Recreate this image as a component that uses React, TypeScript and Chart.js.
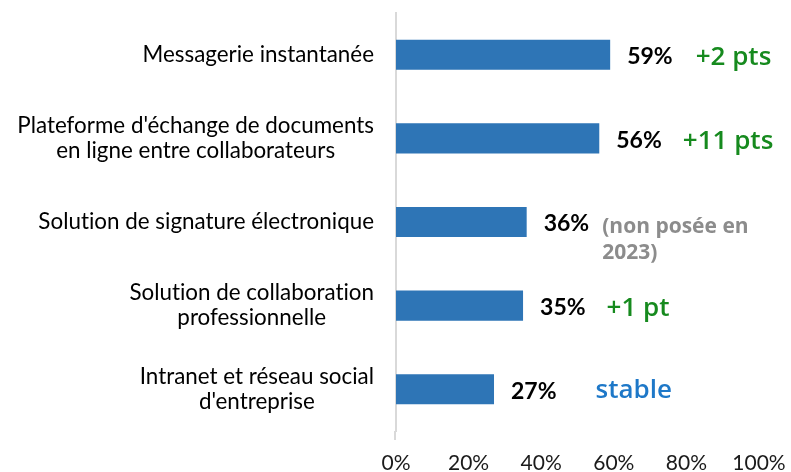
import React, { useEffect, useRef } from "react";
import { Chart, registerables } from "chart.js";

Chart.register(...registerables);

const categories: string[][] = [
  ["Messagerie instantanée"],
  ["Plateforme d'échange de documents", "en ligne entre collaborateurs"],
  ["Solution de signature électronique"],
  ["Solution de collaboration", "professionnelle"],
  ["Intranet et réseau social", "d'entreprise"],
];
const values: number[] = [59, 56, 36, 35, 27];
const valueLabels: string[] = ["59%", "56%", "36%", "35%", "27%"];
const evolutionLabels: string[][] = [
  ["+2 pts"],
  ["+11 pts"],
  ["(non posée en", "2023)"],
  ["+1 pt"],
  ["stable"],
];
const evolutionKinds: string[] = ["up", "up", "new", "up", "stable"];
const xTicks: number[] = [0, 20, 40, 60, 80, 100];

const KIND_STYLE: Record<string, { color: string; font: string; lh: number; dy: number }> = {
  up: { color: "#168a1e", font: "600 26px 'Open Sans'", lh: 26, dy: 3 },
  stable: { color: "#1e78c8", font: "600 26px 'Open Sans'", lh: 26, dy: 1 },
  new: { color: "#8c8c8c", font: "700 21px 'Open Sans'", lh: 26, dy: 5 },
};
const EVOL_GAP: number[] = [23, 21, 13, 21, 39];

const labelPlugin = {
  id: "customLabels",
  afterDatasetsDraw(chart: any) {
    const ctx = chart.ctx;
    const yScale = chart.scales.y;
    const xScale = chart.scales.x;
    const area = chart.chartArea;
    ctx.save();
    try {
      (ctx as any).textRendering = "optimizeSpeed";
    } catch (e) {}
    // axis line extension below the plot
    ctx.strokeStyle = "#d9d9d9";
    ctx.lineWidth = 2;
    ctx.beginPath();
    ctx.moveTo(area.left - 1, area.bottom);
    ctx.lineTo(area.left - 1, area.bottom + 9);
    ctx.stroke();
    // category labels: centered lines, block right-aligned
    ctx.font = "22.4px Lato";
    ctx.fillStyle = "#000000";
    ctx.textBaseline = "middle";
    ctx.textAlign = "center";
    categories.forEach((lines, i) => {
      const yc = yScale.getPixelForValue(i);
      const maxW = Math.max(...lines.map((l) => ctx.measureText(l).width));
      const cx = area.left - 22 - maxW / 2;
      const lh = 25;
      const y0 = yc - ((lines.length - 1) * lh) / 2;
      lines.forEach((l, k) => ctx.fillText(l, cx, y0 + k * lh));
    });
    // value labels
    ctx.textAlign = "left";
    values.forEach((v, i) => {
      const yc = yScale.getPixelForValue(i);
      const xe = xScale.getPixelForValue(v);
      ctx.font = "bold 23px Lato";
      ctx.fillStyle = "#000000";
      const x0 = xe + 17;
      ctx.fillText(valueLabels[i], x0, yc + 2);
      const w = ctx.measureText(valueLabels[i]).width;
      const st = KIND_STYLE[evolutionKinds[i]];
      ctx.font = st.font;
      ctx.fillStyle = st.color;
      const lines = evolutionLabels[i];
      lines.forEach((l, k) => ctx.fillText(l, x0 + w + EVOL_GAP[i], yc + st.dy + k * st.lh));
    });
    ctx.restore();
  },
};

export default function App() {
  const ref = useRef<HTMLCanvasElement | null>(null);
  useEffect(() => {
    if (!ref.current) return;
    const chart = new Chart(ref.current, {
      type: "bar",
      data: {
        labels: categories.map((c) => c.join(" ")),
        datasets: [
          {
            data: values,
            backgroundColor: "#2E75B6",
            borderWidth: 0,
            barPercentage: 0.36,
            categoryPercentage: 1,
          },
        ],
      },
      options: {
        indexAxis: "y",
        animation: false,
        responsive: false,
        maintainAspectRatio: false,
        layout: { padding: { top: 13, right: 32, bottom: 0, left: 0 } },
        plugins: { legend: { display: false }, tooltip: { enabled: false } },
        scales: {
          x: {
            min: 0,
            max: 100,
            grid: { display: false, drawTicks: false },
            border: { display: false },
            afterBuildTicks: (scale: any) => {
              scale.ticks = xTicks.map((v) => ({ value: v }));
            },
            afterFit: (scale: any) => {
              scale.height = 41;
              scale.paddingRight = 0;
              scale.paddingLeft = 0;
            },
            ticks: {
              padding: 20,
              color: "#1a1a1a",
              font: { family: "Lato", size: 21 },
              callback: (v: any) => v + "%",
              maxRotation: 0,
            },
          },
          y: {
            grid: { display: false, drawTicks: false },
            border: { display: true, color: "#d9d9d9", width: 2 },
            ticks: { display: false },
            afterFit: (scale: any) => {
              scale.width = 396;
            },
          },
        },
      },
      plugins: [labelPlugin],
    });
    return () => chart.destroy();
  }, []);
  return (
    <div style={{ position: "fixed", left: 0, top: 0, width: 791, height: 472, background: "#fff" }}>
      <canvas ref={ref} width={791} height={472} style={{ width: 791, height: 472 }} />
    </div>
  );
}
